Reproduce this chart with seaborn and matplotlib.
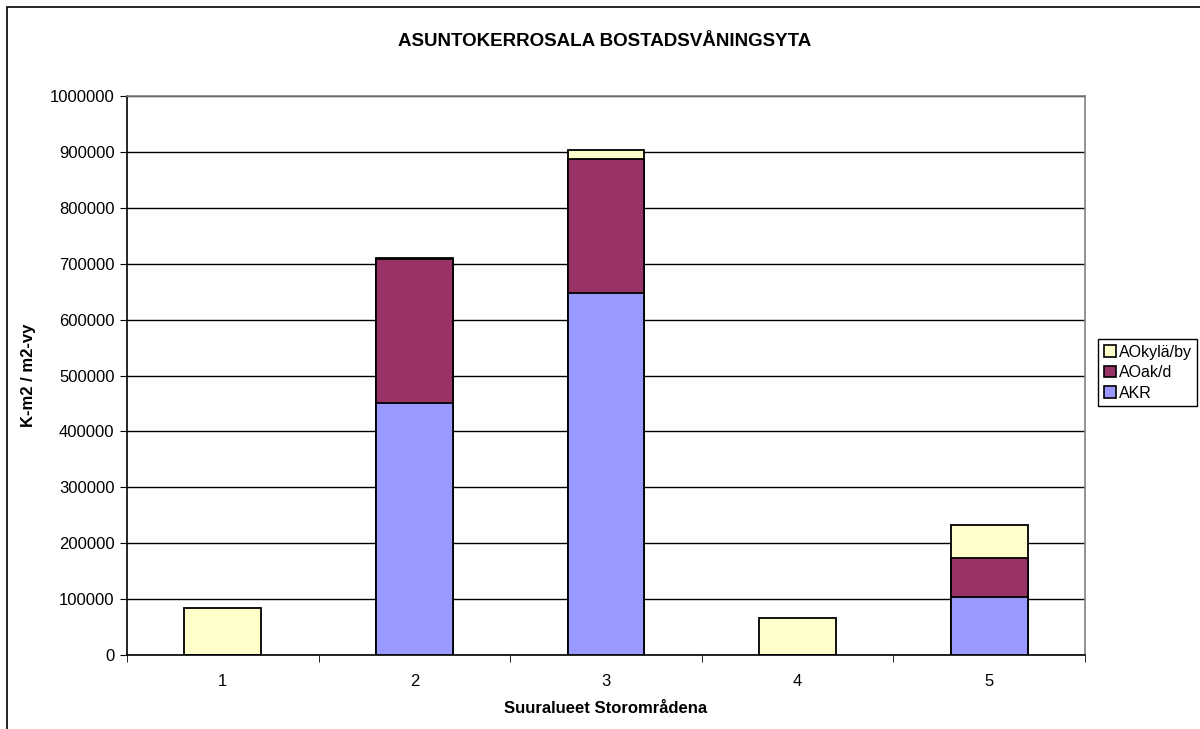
import matplotlib
matplotlib.use('Agg')
import matplotlib.pyplot as plt
from matplotlib.patches import Patch, Rectangle
from matplotlib.ticker import FuncFormatter, MultipleLocator, FixedLocator
import seaborn as sns

# data
suuralueet = ['1', '2', '3', '4', '5']
akr = [0, 450000, 647000, 0, 104000]
aoak_d = [0, 259000, 240000, 0, 70000]
aokyla_by = [84000, 2000, 16000, 66000, 58000]

series_names = ['AOkylä/by', 'AOak/d', 'AKR']
colors = {'AKR': '#9999FF', 'AOak/d': '#993366', 'AOkylä/by': '#FFFFCC'}

sns.set_style('white')
plt.rcParams['font.family'] = ['Liberation Sans', 'DejaVu Sans']
plt.rcParams['text.color'] = 'black'
plt.rcParams['axes.labelcolor'] = 'black'
plt.rcParams['xtick.color'] = 'black'
plt.rcParams['ytick.color'] = 'black'

fig = plt.figure(figsize=(12, 7.29), dpi=100)
ax = fig.add_axes([127 / 1200, 1 - 655 / 729, (1085 - 127) / 1200, (655 - 96) / 729])

# stacked bars drawn as overlapping cumulative totals
level1 = akr
level2 = [a + b for a, b in zip(akr, aoak_d)]
level3 = [a + b + c for a, b, c in zip(akr, aoak_d, aokyla_by)]

for heights, name in [(level3, 'AOkylä/by'), (level2, 'AOak/d'), (level1, 'AKR')]:
    sns.barplot(x=suuralueet, y=heights, color=colors[name], saturation=1,
                edgecolor='black', linewidth=1.3, width=0.4, ax=ax, zorder=3)

ax.set_xlim(-0.5, 4.5)
ax.set_ylim(0, 1000000)
ax.yaxis.set_major_locator(MultipleLocator(100000))
ax.yaxis.set_major_formatter(FuncFormatter(lambda v, p: f'{int(v)}'))
ax.yaxis.grid(True, color='black', linewidth=1, zorder=0)
ax.set_axisbelow(True)

# tick marks between categories, labels at the centres
ax.tick_params(axis='x', which='major', length=0, pad=14, labelsize=12)
ax.xaxis.set_minor_locator(FixedLocator([-0.5, 0.5, 1.5, 2.5, 3.5, 4.5]))
ax.tick_params(axis='x', which='minor', length=5, direction='out', color='black', bottom=True)
ax.tick_params(axis='y', length=5, direction='out', color='black', left=True, labelsize=12, pad=4)

for side in ['left', 'bottom']:
    ax.spines[side].set_color('black')
    ax.spines[side].set_linewidth(1.2)
for side in ['top', 'right']:
    ax.spines[side].set_color('#808080')
    ax.spines[side].set_linewidth(1.2)

ax.set_xlabel('Suuralueet Storområdena', fontsize=12, fontweight='bold', labelpad=8)
ax.set_ylabel('K-m2 / m2-vy', fontsize=12, fontweight='bold', labelpad=10)

fig.text(605 / 1200, 1 - 42 / 729, 'ASUNTOKERROSALA BOSTADSVÅNINGSYTA',
         ha='center', va='center', fontsize=13.5, fontweight='bold')

handles = [Patch(facecolor=colors[n], edgecolor='black', linewidth=1.2) for n in series_names]
fig.legend(handles, series_names, loc='upper left', bbox_to_anchor=(1098 / 1200, 1 - 339 / 729),
           fontsize=11.5, frameon=True, fancybox=False, edgecolor='black', framealpha=1,
           handlelength=0.75, handleheight=0.75, handletextpad=0.2, borderpad=0.35,
           labelspacing=0.35, borderaxespad=0)

# chart area border
fig.patches.append(Rectangle((7 / 1200, -0.1), 1.2, 1 - 7 / 729 + 0.1, transform=fig.transFigure,
                             fill=False, edgecolor='black', linewidth=1.2))

fig.savefig('out.png', dpi=100)
